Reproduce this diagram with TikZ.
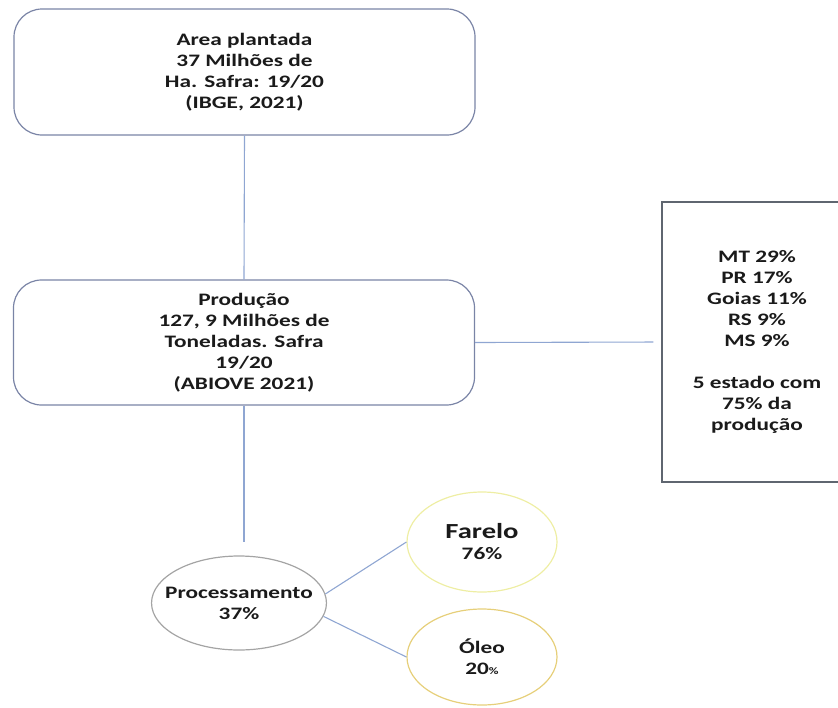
\documentclass[tikz,border=0pt]{standalone}
\usepackage{fontspec}
\setmainfont{Carlito}[FakeStretch=1.33]
\usetikzlibrary{shapes.geometric}
\definecolor{boxline}{HTML}{7A84A6}
\definecolor{stateline}{HTML}{5F6670}
\definecolor{linkcol}{HTML}{8FA6D2}
\definecolor{procline}{HTML}{A4A4A4}
\definecolor{farelocol}{HTML}{EEEEA4}
\definecolor{oleocol}{HTML}{E6CF7A}
\definecolor{txt}{HTML}{1A1A1A}
\begin{document}
\begin{tikzpicture}[x=1pt,y=-1pt,
        every node/.style={text=txt,align=center,font=\bfseries\fontsize{17.5}{21}\selectfont},
        roundbox/.style={draw=boxline,line width=1.2pt,rounded corners=28pt,minimum width=461pt,minimum height=126pt},
        statebox/.style={draw=stateline,line width=1.2pt,minimum width=190pt,minimum height=280pt},
        oval/.style={ellipse,line width=1.2pt,inner sep=0pt},
        link/.style={draw=linkcol,line width=1.1pt}]
    \useasboundingbox (0,0) rectangle (838,707);
    \node[roundbox] (area) at (244.5,72) {Area plantada\\37 Milhões de\\Ha. Safra: 19/20\\(IBGE, 2021)};
    \node[roundbox,minimum height=125pt] (prod) at (244,342.5) {Produção\\127, 9 Milhões de\\Toneladas. Safra\\19/20\\(ABIOVE 2021)};
    \node[statebox] (states) at (757,342) {MT 29\%\\PR 17\%\\Goias 11\%\\RS 9\%\\MS 9\%\\[21pt]5 estado com\\75\% da\\produção};

    \node[oval,draw=procline,inner xsep=-12pt,minimum width=166pt,minimum height=94pt] (proc) at (239,603) {Processamento\\37\%};
    \node[oval,draw=farelocol,minimum width=150pt,minimum height=100pt] (farelo) at (482,542)
        {{\fontsize{21.5}{24}\selectfont Farelo}\\76\%};
    \node[oval,draw=oleocol,minimum width=150pt,minimum height=96pt] (oleo) at (482,657)
        {Óleo\\20{\fontsize{10}{10}\selectfont\%}};

    \draw[link] (area.south) -- (prod.north);
    \draw[link] (prod.east) -- (states.west) [shorten >=8pt];
    \draw[link,shorten >=13pt] (prod.south) -- (prod.south |- proc.north);
    \draw[link] (proc.6) -- (farelo.west);
    \draw[link] (proc.-9) -- (oleo.west);
\end{tikzpicture}
\end{document}
